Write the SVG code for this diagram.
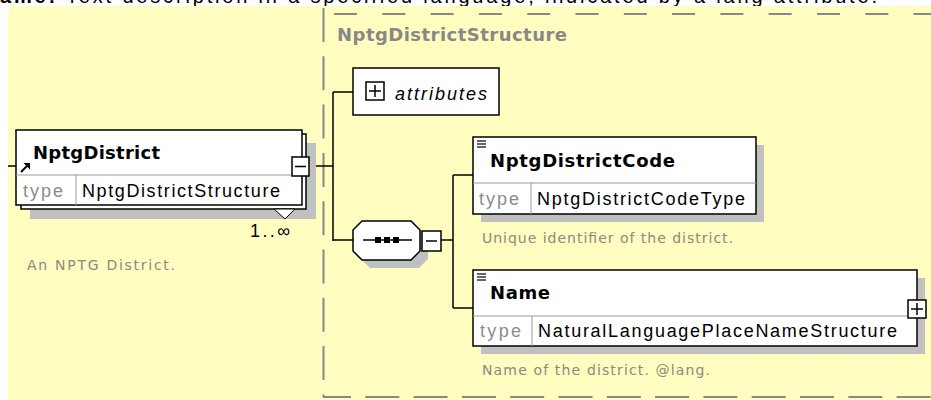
<svg xmlns="http://www.w3.org/2000/svg" width="931" height="400" viewBox="0 0 931 400">
<style>
.bg{fill:#FFFDC0}
.box{fill:#fff;stroke:#000;stroke-width:1.5}
.shadow{fill:#C0C0C0}
.div{stroke:#999;stroke-width:1}
.conn{stroke:#000;stroke-width:1.5;fill:none}
.dash{stroke:#888;stroke-width:2;fill:none}
.name{font-family:"DejaVu Sans",Verdana,sans-serif;font-weight:bold;font-size:18px;fill:#000}
.lbl{font-family:"Liberation Sans",Arial,sans-serif;font-size:18px;fill:#000}
.type{font-family:"Liberation Sans",Arial,sans-serif;font-size:18px;fill:#8C8C8C}
.desc{font-family:"DejaVu Sans",Verdana,sans-serif;font-size:14px;fill:#8A8A80}
.title{font-family:"DejaVu Sans",Verdana,sans-serif;font-weight:bold;font-size:18px;fill:#888}
.btn{fill:#fff;stroke:#000;stroke-width:1.5}
.ico{stroke:#000;stroke-width:1.5;fill:none}
.doc{stroke:#000;stroke-width:1.2}
</style>
<rect x="0" y="0" width="931" height="400" fill="#fff"/>
<text x="0" y="3" font-family="Liberation Sans, Arial, sans-serif" font-size="20" textLength="877"><tspan font-weight="bold">ame:</tspan> Text description in a specified language, indicated by a lang attribute.</text>
<rect class="bg" x="8" y="6" width="923" height="394"/>

<g id="structure">
<line class="dash" x1="323.5" y1="8" x2="323.5" y2="397" stroke-dasharray="34 14.3"/>
<line class="dash" x1="334" y1="14" x2="931" y2="14" stroke-dasharray="23 25.3"/>
<line class="dash" x1="323" y1="397" x2="931" y2="397" stroke-dasharray="34 14.3" stroke-dashoffset="6"/>
<text class="title" x="337" y="41" textLength="230">NptgDistrictStructure</text>
</g>

<g id="connectors">
<line class="conn" x1="8" y1="166" x2="16" y2="166"/>
<line class="conn" x1="309" y1="166" x2="333" y2="166"/>
<line class="conn" x1="333" y1="92" x2="333" y2="241"/>
<line class="conn" x1="333" y1="92" x2="353" y2="92"/>
<line class="conn" x1="333" y1="240" x2="353" y2="240"/>
<line class="conn" x1="441" y1="240" x2="453" y2="240"/>
<line class="conn" x1="453" y1="175" x2="453" y2="308"/>
<line class="conn" x1="453" y1="175" x2="473" y2="175"/>
<line class="conn" x1="453" y1="308" x2="473" y2="308"/>
</g>

<g id="NptgDistrict">
<rect class="shadow" x="30" y="143" width="286" height="76"/>
<rect class="box" x="21" y="134" width="285" height="75"/>
<polygon points="274,209 285,219 295,209" fill="#fff" stroke="#000" stroke-width="1"/>
<rect class="box" x="16" y="130" width="286" height="75"/>
<line class="div" x1="16" y1="175" x2="302" y2="175"/>
<line class="div" x1="76" y1="175" x2="76" y2="205"/>
<line x1="21" y1="172" x2="27" y2="166" stroke="#000" stroke-width="2"/>
<polygon points="23.5,163 30,163 30,169.5" fill="#000"/>
<text class="name" x="33" y="159" textLength="127">NptgDistrict</text>
<text class="type" x="23" y="197" textLength="40">type</text>
<text class="lbl" x="82" y="197" textLength="198">NptgDistrictStructure</text>
<rect class="btn" x="292" y="157" width="17" height="19"/>
<line class="ico" x1="295" y1="166.5" x2="306" y2="166.5"/>
<text class="lbl" x="250" y="237" textLength="40">1..∞</text>
<text class="desc" x="27" y="270" textLength="148">An NPTG District.</text>
</g>

<g id="attributes">
<rect class="box" x="353" y="68" width="146" height="47"/>
<rect class="ico" x="366" y="82" width="18" height="18"/>
<line class="ico" x1="369" y1="91" x2="381" y2="91"/>
<line class="ico" x1="375" y1="85" x2="375" y2="97"/>
<text class="lbl" x="395" y="100" font-style="italic" textLength="92">attributes</text>
</g>

<g id="sequence">
<polygon class="shadow" points="370,229 419,229 428,238 428,259 419,268 370,268 361,259 361,238"/>
<polygon class="box" points="362,221 411,221 420,230 420,251 411,260 362,260 353,251 353,230"/>
<line x1="363" y1="240" x2="412" y2="240" stroke="#000" stroke-width="1.5"/>
<rect x="375" y="237" width="6" height="6" fill="#000"/>
<rect x="384" y="237" width="6" height="6" fill="#000"/>
<rect x="393" y="237" width="6" height="6" fill="#000"/>
<rect class="btn" x="422" y="231" width="19" height="20"/>
<line class="ico" x1="426" y1="241" x2="437" y2="241"/>
</g>

<g id="NptgDistrictCode">
<rect class="shadow" x="481" y="145" width="283" height="77"/>
<rect class="box" x="473" y="137" width="283" height="77"/>
<line class="div" x1="473" y1="183" x2="756" y2="183"/>
<line class="div" x1="531" y1="183" x2="531" y2="214"/>
<line class="doc" x1="477" y1="141" x2="486" y2="141"/>
<line class="doc" x1="477" y1="144" x2="486" y2="144"/>
<line class="doc" x1="477" y1="147" x2="486" y2="147"/>
<text class="name" x="490" y="167" textLength="185">NptgDistrictCode</text>
<text class="type" x="479" y="205" textLength="40">type</text>
<text class="lbl" x="537" y="205" textLength="208">NptgDistrictCodeType</text>
<text class="desc" x="482" y="243" textLength="251">Unique identifier of the district.</text>
</g>

<g id="Name">
<rect class="shadow" x="481" y="278" width="444" height="76"/>
<rect class="box" x="473" y="270" width="444" height="76"/>
<line class="div" x1="473" y1="316" x2="917" y2="316"/>
<line class="div" x1="532" y1="316" x2="532" y2="346"/>
<line class="doc" x1="477" y1="274" x2="486" y2="274"/>
<line class="doc" x1="477" y1="277" x2="486" y2="277"/>
<line class="doc" x1="477" y1="280" x2="486" y2="280"/>
<text class="name" x="490" y="299" textLength="60">Name</text>
<text class="type" x="480" y="337" textLength="41">type</text>
<text class="lbl" x="538" y="337" textLength="359">NaturalLanguagePlaceNameStructure</text>
<rect class="btn" x="908" y="300" width="18" height="18"/>
<line class="ico" x1="911" y1="309" x2="923" y2="309"/>
<line class="ico" x1="917" y1="303" x2="917" y2="315"/>
<text class="desc" x="482" y="375" textLength="228">Name of the district. @lang.</text>
</g>
</svg>
